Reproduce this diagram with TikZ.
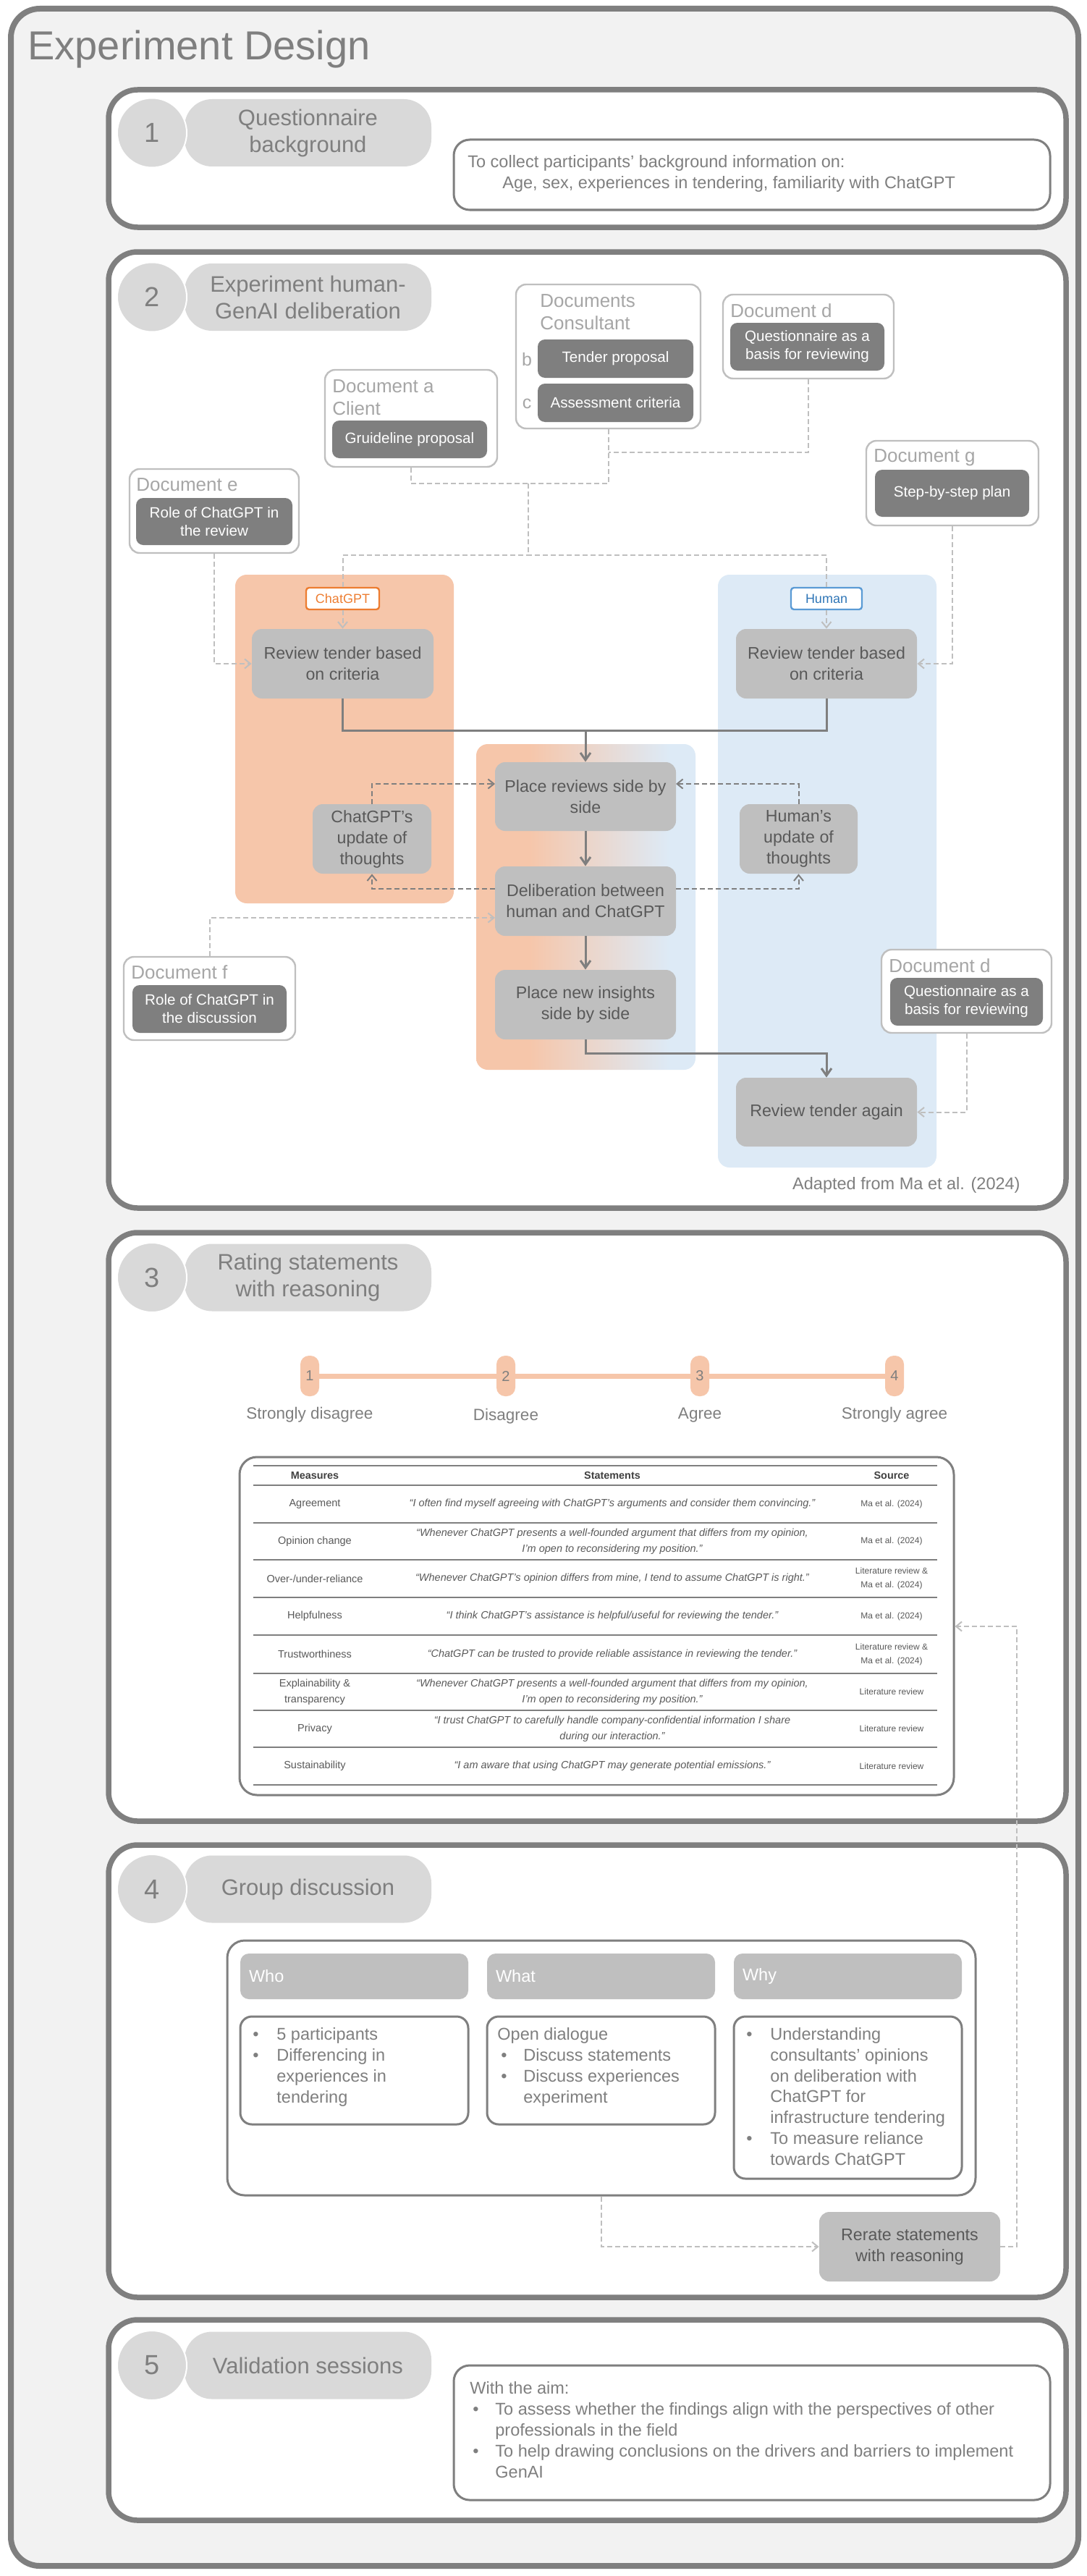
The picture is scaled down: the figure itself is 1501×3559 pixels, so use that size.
\documentclass[tikz,border=0pt]{standalone}
\usepackage{fontspec}
\setmainfont{Liberation Sans}
\usetikzlibrary{arrows.meta}
\definecolor{fgray}{HTML}{7F7F7F}
\definecolor{bgray}{HTML}{F2F2F2}
\definecolor{pgray}{HTML}{D9D9D9}
\definecolor{lgray}{HTML}{BFBFBF}
\definecolor{tgray}{HTML}{595959}
\definecolor{ttl}{HTML}{A6A6A6}
\definecolor{laneO}{HTML}{F6C6AA}
\definecolor{laneB}{HTML}{DDEAF6}
\definecolor{orgB}{HTML}{ED7D31}
\definecolor{bluB}{HTML}{5B9BD5}
\definecolor{bluT}{HTML}{2E75B6}
\definecolor{tdark}{HTML}{404040}
\newcommand\fs[2]{\fontsize{#1}{#2}\selectfont}
\pgfdeclarehorizontalshading{midlane}{100bp}{color(0bp)=(laneO); color(37bp)=(laneO); color(69bp)=(laneB); color(100bp)=(laneB)}
\tikzset{
  secbox/.style={draw=fgray, line width=3.75pt, fill=white, rounded corners=20pt},
  txtbox/.style={draw=fgray, line width=1.5pt, fill=white, rounded corners=11pt},
  numcirc/.style={circle, fill=pgray, draw=white, line width=1pt, minimum size=48pt, inner sep=0pt, text=fgray, font=\fs{19}{22}},
  pill/.style={rectangle, fill=pgray, rounded corners=19pt, minimum width=170.5pt, minimum height=46.5pt, text=fgray, align=center, inner sep=0pt, font=\fs{15.5}{18.5}},
  docbox/.style={draw=lgray, line width=1.2pt, fill=white, rounded corners=7pt},
  darkbox/.style={fill=fgray, rounded corners=5pt, text=white, align=center, inner sep=0pt, font=\fs{10.3}{12.5}},
  doctitle/.style={text=ttl, font=\fs{13}{15.5}, align=left, inner sep=0pt},
  flow/.style={fill=lgray, rounded corners=7pt, text=tgray, align=center, inner sep=0pt, font=\fs{11.6}{14.5}},
  lbl/.style={fill=white, rounded corners=2pt, line width=1.2pt, inner sep=0pt, minimum height=15pt, font=\fs{9}{10}},
  ldash/.style={draw=lgray, line width=1pt, dash pattern=on 3.5pt off 2pt},
  ddash/.style={draw=fgray, line width=1pt, dash pattern=on 3.5pt off 2pt},
  sline/.style={draw=fgray, line width=1.5pt},
  body/.style={text=fgray, align=left, inner sep=0pt, font=\fs{11.75}{14.5}},
  scalepill/.style={fill=laneO, rounded corners=6pt, minimum width=13pt, minimum height=28pt, inner sep=0pt, text=fgray, font=\fs{10}{12}},
  scalelab/.style={text=fgray, inner sep=0pt, font=\fs{11.25}{13}},
  th/.style={text=tdark, inner sep=0pt, font=\bfseries\fs{7.2}{9}},
  tm/.style={text=tgray, inner sep=0pt, align=center, font=\fs{7.25}{11}},
  ts/.style={text=tgray, inner sep=0pt, align=center, font=\itshape\fs{7.25}{11}},
  tsrc/.style={text=tgray, inner sep=0pt, align=center, font=\fs{6}{9.5}},
  hdr/.style={fill=lgray, rounded corners=6pt, minimum width=157.5pt, minimum height=31.5pt, text width=145.5pt, inner xsep=6pt, align=left, text=white, font=\fs{11.75}{14}},
  cbox/.style={draw=fgray, line width=1.5pt, fill=white, rounded corners=8pt, minimum width=157.5pt},
  la/.style={-{Straight Barb[length=4pt,width=6.5pt]}},
  sa/.style={-{Straight Barb[length=5pt,width=7pt]}}
}
\begin{document}
\begin{tikzpicture}[x=0.5pt,y=-0.5pt]
\useasboundingbox (0,0) rectangle (1501,3559);
\fill[white] (0,0) rectangle (1501,3559);
% outer frame
\draw[draw=fgray, line width=4pt, fill=bgray, rounded corners=20pt] (15,12) rectangle (1490,3545);
\node[anchor=base west, text=fgray, inner sep=0pt, font=\fs{28}{32}] (title) at (38,83) {Experiment Design};

% ================= Section 1
\draw[secbox] (150,124) rectangle (1473,314);
\node[pill] (p1) at (425.5,183.5) {Questionnaire\\background};
\node[numcirc] (n1) at (210,183.5) {1};
\draw[txtbox] (627,193) rectangle (1451,290);
\node[body, anchor=north west] (bgT) at (646,214) {To collect participants’ background information on:\\\hspace*{24pt}Age, sex, experiences in tendering, familiarity with ChatGPT};

% ================= Section 2
\draw[secbox] (150,348) rectangle (1473,1669);
\node[pill] (p2) at (425.5,410.5) {Experiment human-\\GenAI deliberation};
\node[numcirc] (n2) at (210,410.5) {2};

% lanes
\fill[laneO, rounded corners=8pt] (325,794) rectangle (627,1248);
\fill[laneB, rounded corners=8pt] (992,794) rectangle (1294,1613);
\shade[shading=midlane, rounded corners=8pt] (658,1028) rectangle (961,1478);

% documents
\node[docbox, minimum width=127.5pt, minimum height=99.5pt] (docC) at (840.5,492.5) {};
\node[doctitle, anchor=west] (docCt) at (746,431.5) {Documents\\Consultant};
\node[darkbox, minimum width=107.5pt, minimum height=26.5pt] (tp) at (850.5,495.5) {Tender proposal};
\node[darkbox, minimum width=107.5pt, minimum height=26.5pt] (ac) at (850.5,556.5) {Assessment criteria};
\node[doctitle, font=\fs{12.5}{15}] (lb) at (728,497) {b};
\node[doctitle, font=\fs{12.5}{15}] (lc) at (728,558) {c};

\node[docbox, minimum width=118pt, minimum height=58pt] (docd1) at (1117,465) {};
\node[doctitle, anchor=west] (docd1t) at (1009,429) {Document d};
\node[darkbox, minimum width=106.5pt, minimum height=33pt] (qd1) at (1115.5,479) {Questionnaire as a\\basis for reviewing};

\node[docbox, minimum width=119pt, minimum height=67pt] (doca) at (568,578) {};
\node[doctitle, anchor=west] (docat) at (459,549) {Document a\\Client};
\node[darkbox, minimum width=107pt, minimum height=26pt] (gp) at (566,607) {Gruideline proposal};

\node[docbox, minimum width=117pt, minimum height=58pt] (doce) at (296,706) {};
\node[doctitle, anchor=west] (docet) at (188,670) {Document e};
\node[darkbox, minimum width=108pt, minimum height=32.5pt] (re) at (296,720.5) {Role of ChatGPT in\\the review};

\node[docbox, minimum width=119pt, minimum height=58.5pt] (docg) at (1316,667.5) {};
\node[doctitle, anchor=west] (docgt) at (1207,632) {Document g};
\node[darkbox, minimum width=106.5pt, minimum height=32.5pt] (sp) at (1315.5,681.5) {Step-by-step plan};

\node[docbox, minimum width=118.5pt, minimum height=57.5pt] (docf) at (289.5,1379.5) {};
\node[doctitle, anchor=west] (docft) at (181,1343) {Document f};
\node[darkbox, minimum width=106.5pt, minimum height=33pt] (rf) at (289.5,1394) {Role of ChatGPT in\\the discussion};

\node[docbox, minimum width=117.5pt, minimum height=57.5pt] (docd2) at (1335.5,1369.5) {};
\node[doctitle, anchor=west] (docd2t) at (1228,1334) {Document d};
\node[darkbox, minimum width=105.5pt, minimum height=33pt] (qd2) at (1335.5,1384) {Questionnaire as a\\basis for reviewing};

% labels
\node[lbl, draw=orgB, text=orgB, minimum width=50.5pt] (lblC) at (473.5,827) {ChatGPT};
\node[lbl, draw=bluB, text=bluT, minimum width=49pt] (lblH) at (1142,827) {Human};

% flow boxes
\node[flow, minimum width=125.5pt, minimum height=48pt] (rc) at (473.5,917) {Review tender based\\on criteria};
\node[flow, minimum width=125pt, minimum height=48pt] (rh) at (1142,917) {Review tender based\\on criteria};
\node[flow, minimum width=125pt, minimum height=47.5pt] (prs) at (809,1100.5) {Place reviews side by\\side};
\node[flow, minimum width=82pt, minimum height=48pt] (cu) at (514,1159) {ChatGPT’s\\update of\\thoughts};
\node[flow, minimum width=81.5pt, minimum height=48pt] (hu) at (1103.5,1159) {Human’s\\update of\\thoughts};
\node[flow, minimum width=125pt, minimum height=48pt] (del) at (809,1245) {Deliberation between\\human and ChatGPT};
\node[flow, minimum width=125pt, minimum height=48pt] (pni) at (809,1388) {Place new insights\\side by side};
\node[flow, minimum width=125pt, minimum height=47.5pt] (rta) at (1142,1536.5) {Review tender again};

\node[body, anchor=east] (adapt) at (1410,1637) {Adapted from Ma et al. (2024)};

% connector junctions
\coordinate (jd) at (840.5,625);
\coordinate (ja) at (840.5,668);
\coordinate (jm) at (730,668);
\coordinate (jl) at (730,767);
\coordinate (m1) at (809,1009);
\coordinate (m2) at (809,1455);
\coordinate (pin1) at (684,1083);
\coordinate (pin2) at (934,1083);
\coordinate (dout1) at (684,1228);
\coordinate (dout2) at (934,1228);
\coordinate (fin) at (684,1268);

\draw[ldash] (docC.south) -- (ja);
\draw[ldash] (docd1.south) |- (jd);
\draw[ldash] (doca.south) |- (ja);
\draw[ldash] (jm) -- (jl);
\draw[ldash] (lblC.north) |- (jl);
\draw[ldash] (lblH.north) |- (jl);
\draw[ldash,la] (lblC.south) -- (rc.north);
\draw[ldash,la] (lblH.south) -- (rh.north);
\draw[ldash,la] (doce.south) |- (rc.west);
\draw[ldash,la] (docg.south) |- (rh.east);
\draw[ldash,la] (docf.north) |- (fin);
\draw[ldash,la] (docd2.south) |- (rta.east);

\draw[sline] (rc.south) |- (m1);
\draw[sline] (rh.south) |- (m1);
\draw[sline,sa] (m1) -- (prs.north);
\draw[sline,sa] (prs.south) -- (del.north);
\draw[sline,sa] (del.south) -- (pni.north);
\draw[sline,sa] (pni.south) -- (m2) -| (rta.north);

\draw[ddash,la] (cu.north) |- (pin1);
\draw[ddash,la] (hu.north) |- (pin2);
\draw[ddash,la] (dout1) -| (cu.south);
\draw[ddash,la] (dout2) -| (hu.south);

% ================= Section 3
\draw[secbox] (150,1703) rectangle (1473,2516);
\node[pill] (p3) at (425.5,1765) {Rating statements\\with reasoning};
\node[numcirc] (n3) at (210,1765) {3};

\node[scalepill] (k1) at (428,1901) {1};
\node[scalepill] (k2) at (699,1901) {2};
\node[scalepill] (k3) at (967,1901) {3};
\node[scalepill] (k4) at (1236,1901) {4};
\draw[draw=laneO, line width=3.5pt] (k1) -- (k2);
\draw[draw=laneO, line width=3.5pt] (k2) -- (k3);
\draw[draw=laneO, line width=3.5pt] (k3) -- (k4);
\node[scalelab] (kl1) at (428,1955) {Strongly disagree};
\node[scalelab] (kl2) at (699,1957) {Disagree};
\node[scalelab] (kl3) at (967,1955) {Agree};
\node[scalelab] (kl4) at (1236,1955) {Strongly agree};

\node[draw=fgray, line width=1.5pt, fill=white, rounded corners=12pt, minimum width=493.5pt, minimum height=233.5pt] (tbl) at (824.5,2246.5) {};
\draw[fgray, line width=1.2pt] (350,2025) -- (1295,2025);
\draw[fgray, line width=1.2pt] (350,2052) -- (1295,2052);
\foreach \yy in {2104,2155,2207,2259,2312,2363,2414} \draw[fgray, line width=0.6pt] (350,\yy) -- (1295,\yy);
\draw[fgray, line width=1.2pt] (350,2466) -- (1295,2466);

\node[th] (h1) at (435,2039) {Measures};
\node[th] (h2) at (846,2039) {Statements};
\node[th] (h3) at (1232,2039) {Source};

\node[tm] (m1a) at (435,2078) {Agreement};
\node[ts] (s1a) at (846,2078) {“I often find myself agreeing with ChatGPT’s arguments and consider them convincing.”};
\node[tsrc] (r1a) at (1232,2078) {Ma et al. (2024)};

\node[tm] (m2a) at (435,2129.5) {Opinion change};
\node[ts] (s2a) at (846,2129.5) {“Whenever ChatGPT presents a well-founded argument that differs from my opinion,\\I’m open to reconsidering my position.”};
\node[tsrc] (r2a) at (1232,2129.5) {Ma et al. (2024)};

\node[tm] (m3a) at (435,2181) {Over-/under-reliance};
\node[ts] (s3a) at (846,2181) {“Whenever ChatGPT’s opinion differs from mine, I tend to assume ChatGPT is right.”};
\node[tsrc] (r3a) at (1232,2181) {Literature review \&\\Ma et al. (2024)};

\node[tm] (m4a) at (435,2233) {Helpfulness};
\node[ts] (s4a) at (846,2233) {“I think ChatGPT’s assistance is helpful/useful for reviewing the tender.”};
\node[tsrc] (r4a) at (1232,2233) {Ma et al. (2024)};

\node[tm] (m5a) at (435,2285.5) {Trustworthiness};
\node[ts] (s5a) at (846,2285.5) {“ChatGPT can be trusted to provide reliable assistance in reviewing the tender.”};
\node[tsrc] (r5a) at (1232,2285.5) {Literature review \&\\Ma et al. (2024)};

\node[tm] (m6a) at (435,2337.5) {Explainability \&\\transparency};
\node[ts] (s6a) at (846,2337.5) {“Whenever ChatGPT presents a well-founded argument that differs from my opinion,\\I’m open to reconsidering my position.”};
\node[tsrc] (r6a) at (1232,2337.5) {Literature review};

\node[tm] (m7a) at (435,2388.5) {Privacy};
\node[ts] (s7a) at (846,2388.5) {“I trust ChatGPT to carefully handle company-confidential information I share\\during our interaction.”};
\node[tsrc] (r7a) at (1232,2388.5) {Literature review};

\node[tm] (m8a) at (435,2440) {Sustainability};
\node[ts] (s8a) at (846,2440) {“I am aware that using ChatGPT may generate potential emissions.”};
\node[tsrc] (r8a) at (1232,2440) {Literature review};

% ================= Section 4
\draw[secbox] (150,2549) rectangle (1473,3174);
\node[pill] (p4) at (425.5,2610) {Group discussion};
\node[numcirc] (n4) at (210,2610) {4};

\node[draw=fgray, line width=1.5pt, rounded corners=12pt, minimum width=517pt, minimum height=176pt] (gbox) at (831,2857) {};
\node[hdr] (who) at (489.5,2730.5) {Who};
\node[hdr] (what) at (830.5,2730.5) {What};
\node[hdr] (why) at (1171.5,2730.5) {Why};
\node[cbox, minimum height=74.5pt] (whoB) at (489.5,2860.5) {};
\node[cbox, minimum height=74.5pt] (whatB) at (830.5,2860.5) {};
\node[cbox, minimum height=112pt] (whyB) at (1171.5,2898) {};
\node[body, anchor=north west] (whoT) at (349,2801) {\makebox[16.5pt][l]{•}5 participants\\\makebox[16.5pt][l]{•}Differencing in\\\hspace*{16.5pt}experiences in\\\hspace*{16.5pt}tendering};
\node[body, anchor=north west] (whatT) at (687,2801) {Open dialogue\\\hspace*{2.5pt}\makebox[15.5pt][l]{•}Discuss statements\\\hspace*{2.5pt}\makebox[15.5pt][l]{•}Discuss experiences\\\hspace*{18pt}experiment};
\node[body, anchor=north west, font=\fs{11.75}{14.4}] (whyT) at (1031,2801) {\makebox[16.5pt][l]{•}Understanding\\\hspace*{16.5pt}consultants’ opinions\\\hspace*{16.5pt}on deliberation with\\\hspace*{16.5pt}ChatGPT for\\\hspace*{16.5pt}infrastructure tendering\\\makebox[16.5pt][l]{•}To measure reliance\\\hspace*{16.5pt}towards ChatGPT};

\node[flow, minimum width=125pt, minimum height=48pt] (rr) at (1257,3104) {Rerate statements\\with reasoning};
\coordinate (c1) at (1405,2247);
\coordinate (tin) at (tbl.east |- c1);
\draw[ldash,la] (gbox.south) |- (rr.west);
\draw[ldash,la] (rr.east) -| (c1) -- (tin);

% ================= Section 5
\draw[secbox] (150,3205) rectangle (1473,3482);
\node[pill] (p5) at (425.5,3268) {Validation sessions};
\node[numcirc] (n5) at (210,3268) {5};
\draw[txtbox] (627,3268) rectangle (1451,3454);
\node[body, anchor=north west] (aimT) at (649,3290) {With the aim:\\\hspace*{2pt}\makebox[15.5pt][l]{•}To assess whether the findings align with the perspectives of other\\\hspace*{17.5pt}professionals in the field\\\hspace*{2pt}\makebox[15.5pt][l]{•}To help drawing conclusions on the drivers and barriers to implement\\\hspace*{17.5pt}GenAI};
\end{tikzpicture}
\end{document}
